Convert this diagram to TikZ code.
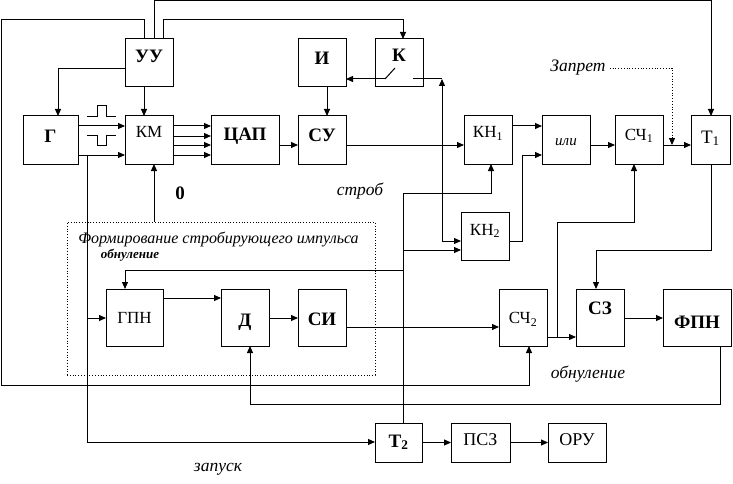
\documentclass[tikz,border=0pt]{standalone}
\usepackage{fontspec}
\setmainfont{Liberation Serif}
\usetikzlibrary{arrows.meta}
\newcommand{\tx}[2]{\raisebox{#1pt}[0pt][0pt]{#2}}
\begin{document}
\begin{tikzpicture}[x=1pt,y=-1pt,
  box/.style={draw,line width=1pt,inner sep=0pt,outer sep=0pt},
  reg/.style={font=\fontsize{17}{19}\selectfont},
  bld/.style={font=\fontsize{19}{21}\selectfont\bfseries},
  ln/.style={line width=1pt},
  arr/.style={line width=1pt,-{Triangle[length=7pt,width=6pt]}},
  arrb/.style={line width=1pt,{Triangle[length=7pt,width=6pt]}-{Triangle[length=7pt,width=6pt]}},
  lab/.style={font=\fontsize{17.5}{19}\selectfont\itshape,inner sep=0pt,anchor=base}]
\useasboundingbox (0,0) rectangle (733,484);

% boxes
\node[box,bld,minimum width=48pt,minimum height=48pt] (uu) at (149,63) {\tx{0}{УУ}};
\node[box,bld,minimum width=55pt,minimum height=48pt] (g) at (50.5,140) {\tx{-2}{Г}};
\node[box,reg,minimum width=48pt,minimum height=48pt] (km) at (149,140) {\tx{2}{КМ}};
\node[box,bld,minimum width=68pt,minimum height=48pt] (dac) at (245,140) {\tx{0}{ЦАП}};
\node[box,bld,minimum width=48pt,minimum height=48pt] (su) at (322,140) {\tx{-1}{СУ}};
\node[box,bld,minimum width=48pt,minimum height=48pt] (ii) at (322,63) {\tx{-2}{И}};
\node[box,bld,minimum width=48pt,minimum height=48pt] (kk) at (399,63) {\tx{1}{К}};
\node[box,reg,minimum width=48pt,minimum height=48pt] (kn1) at (488,140) {\tx{2}{КН\textsubscript{1}}};
\node[box,reg,minimum width=48pt,minimum height=48pt,font=\fontsize{15}{17}\selectfont\itshape] (ili) at (566,140) {\tx{-5}{или}};
\node[box,reg,minimum width=48pt,minimum height=48pt] (sc1) at (639,140) {\tx{0}{СЧ\textsubscript{1}}};
\node[box,reg,minimum width=39pt,minimum height=48pt,font=\fontsize{19}{21}\selectfont] (t1) at (710.5,140) {\tx{-3}{Т\textsubscript{1}}};
\node[box,reg,minimum width=48pt,minimum height=48pt] (kn2) at (485,236) {\tx{1}{КН\textsubscript{2}}};
\node[box,reg,minimum width=57pt,minimum height=57pt] (gpn) at (134.5,317.5) {\tx{-5.5}{ГПН}};
\node[box,bld,minimum width=48pt,minimum height=57pt] (dd) at (245,317.5) {\tx{-8.5}{Д}};
\node[box,bld,minimum width=48pt,minimum height=57pt] (si) at (322,317.5) {\tx{-7.5}{СИ}};
\node[box,reg,minimum width=48pt,minimum height=57pt] (sc2) at (523,317.5) {\tx{-6}{СЧ\textsubscript{2}}};
\node[box,bld,minimum width=48pt,minimum height=57pt] (sz) at (600,317.5) {\tx{3.5}{СЗ}};
\node[box,bld,minimum width=68pt,minimum height=57pt] (fpn) at (697,317.5) {\tx{-10.5}{ФПН}};
\node[box,bld,minimum width=47pt,minimum height=39pt] (t2) at (398.5,442.5) {\tx{-4.5}{Т\textsubscript{2}}};
\node[box,reg,minimum width=59pt,minimum height=39pt,font=\fontsize{18}{20}\selectfont] (psz) at (480.5,442.5) {\tx{-2.5}{ПСЗ}};
\node[box,reg,minimum width=58pt,minimum height=39pt,font=\fontsize{18}{20}\selectfont] (oru) at (577,442.5) {\tx{-2.5}{ОРУ}};

% dotted frame
\node[draw,dotted,line width=0.8pt,inner sep=0pt,minimum width=308pt,minimum height=153pt] (frame) at (221,298.5) {};

% labels
\node[font=\fontsize{19}{21}\selectfont\bfseries,inner sep=0pt,anchor=base] (zero) at (180,199) {0};
\node[lab] (strob) at (360,195) {строб};
\node[lab] (zap) at (578,72) {Запрет};
\node[lab,font=\fontsize{16}{18}\selectfont\itshape] (form) at (218.5,243) {Формирование стробирующего импульса};
\node[font=\fontsize{13}{15}\selectfont\bfseries\itshape,inner sep=0pt,anchor=base] (obn1) at (130,258) {обнуление};
\node[lab] (obn2) at (588,378) {обнуление};
\node[lab] (zapusk) at (218,471) {запуск};

% pulse symbols
\draw[ln] (87,117) -- (97,117) -- (97,106) -- (106,106) -- (106,117) -- (116,117);
\draw[ln] (87,135) -- (97,135) -- (97,145) -- (106,145) -- (106,135) -- (116,135);

% connections
\draw[arr] (g.east |- 0,126) -- (km.west |- 0,126);
\draw[arr] (g.east |- 0,155) -- (km.west |- 0,155);
\draw[arr] (uu.west |- 0,69) -| (g.north -| 58,0);
\draw[arr] (uu.south -| 144,0) -- (km.north -| 144,0);
\draw[arr] (uu.north -| 144,0) -- (144,20) -- (1,20) -- (1,385) -- (529,385) -- (sc2.south -| 529,0);
\draw[arr] (uu.north -| 154,0) -- (154,1) -| (t1.north -| 711,0);
\draw[arr] (uu.north -| 163,0) -- (163,20) -| (kk.north -| 403,0);
\foreach \yy in {126,136,145,155} \draw[arr] (km.east |- 0,\yy) -- (dac.west |- 0,\yy);
\draw[arr] (dac.east |- 0,145) -- (su.west |- 0,145);
\draw[arr] (ii.south -| 327,0) -- (su.north -| 327,0);
% switch in K
\coordinate (swa) at (385,79);
\coordinate (swb) at (395,68);
\coordinate (swc) at (413,79);
\coordinate (swd) at (442,79);
\draw[arr] (swa) -- (ii.east |- swa);
\draw[ln] (swa) -- (swb);
\draw[ln] (swc) -- (swd);
\draw[arrb] (swd) -- (442,241) -- (kn2.west |- 0,241);
\draw[arr] (su.east |- 0,145) -- (kn1.west |- 0,145);
\draw[arr] (kn1.east |- 0,126) -- (ili.west |- 0,126);
\draw[arr] (kn2.east |- 0,241) -- (522,241) |- (ili.west |- 0,155);
\draw[arr] (ili.east |- 0,145) -- (sc1.west |- 0,145);
\draw[arr] (sc1.east |- 0,145) -- (t1.west |- 0,145);
\draw[dotted,line width=0.8pt,-{Triangle[length=7pt,width=6pt]}] (zap.east |- 0,68) ++(4,0) -| (672,145);
% T2 outputs
\draw[arr] (t2.north -| 403,0) -- (403,193) -| (kn1.south -| 491,0);
\draw[arr] (403,250) -- (kn2.west |- 0,250);
\draw[arr] (403,270) -| (gpn.north -| 125,0);
% zero to KM
\draw[arr] (frame.north -| 154,0) -- (km.south -| 154,0);
% launch
\draw[arr] (87,155) -- (87,442) -- (t2.west |- 0,442);
\draw[arr] (87,318) -- (gpn.west |- 0,318);
\draw[arr] (gpn.east |- 0,298) -- (dd.west |- 0,298);
\draw[arr] (dd.east |- 0,318) -- (si.west |- 0,318);
\draw[arr] (si.east |- 0,327) -- (sc2.west |- 0,327);
\draw[arr] (sc2.east |- 0,337) -- (sz.west |- 0,337);
\draw[arr] (557,337) -- (557,222) -| (sc1.south -| 634,0);
\draw[arr] (t1.south -| 711,0) -- (711,250) -| (sz.north -| 596,0);
\draw[arr] (sz.east |- 0,318) -- (fpn.west |- 0,318);
\draw[arr] (fpn.south -| 720,0) -- (720,404) -| (dd.south -| 250,0);
\draw[arr] (t2) -- (psz);
\draw[arr] (psz) -- (oru);
\end{tikzpicture}
\end{document}
